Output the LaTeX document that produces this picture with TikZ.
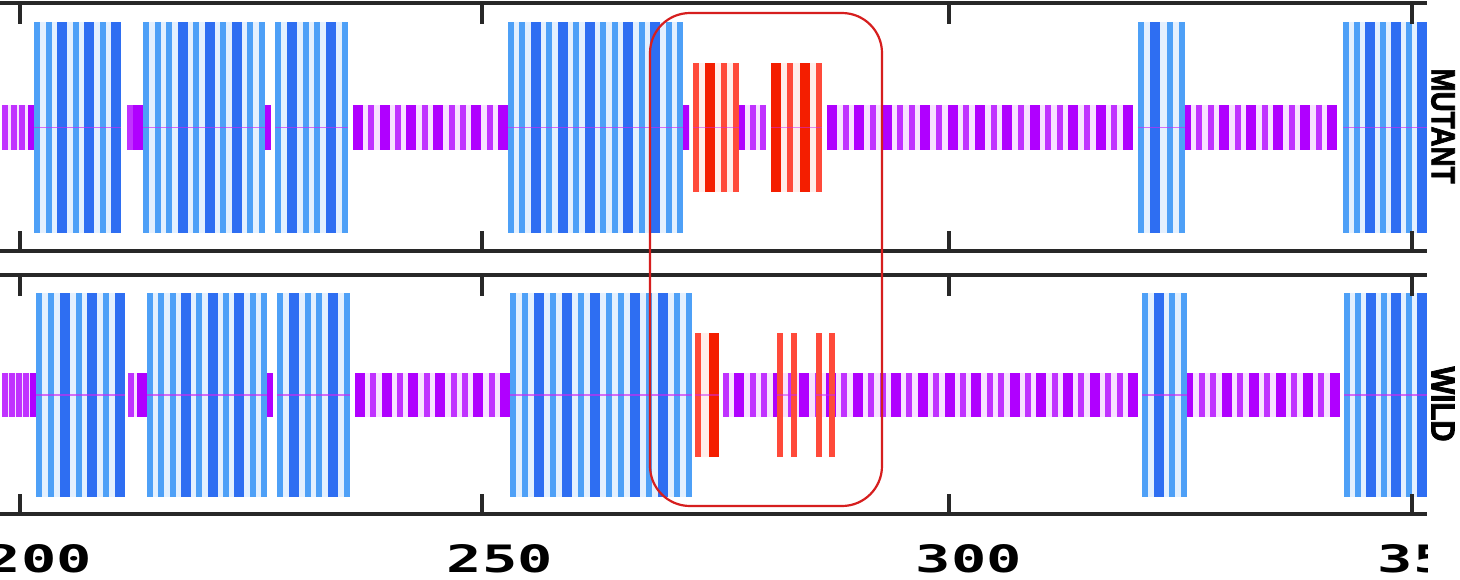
\documentclass[tikz,border=0pt]{standalone}
\usepackage{fontspec}
\usepackage{graphicx}
\newfontfamily\labfont[FakeBold=2.5]{Liberation Sans}
\newfontfamily\numfont{DejaVu Sans Mono}
\definecolor{hlightc}{RGB}{78,160,247}
\definecolor{hdarkc}{RGB}{46,110,242}
\definecolor{hpalec}{RGB}{228,240,254}
\definecolor{clightc}{RGB}{192,50,255}
\definecolor{cdarkc}{RGB}{176,0,255}
\definecolor{cpalec}{RGB}{248,226,255}
\definecolor{elightc}{RGB}{255,74,58}
\definecolor{edarkc}{RGB}{244,30,0}
\definecolor{epalec}{RGB}{255,238,235}
\definecolor{midc}{RGB}{205,40,245}
\definecolor{framec}{RGB}{40,40,40}
\definecolor{boxc}{RGB}{214,30,30}
\tikzset{
  hlight/.style={fill=hlightc}, hdark/.style={fill=hdarkc}, hpale/.style={fill=hpalec},
  hmid/.style={draw=midc, line width=1.5pt, draw opacity=0.65},
  clight/.style={fill=clightc}, cdark/.style={fill=cdarkc}, cpale/.style={fill=cpalec},
  cmid/.style={draw=none},
  elight/.style={fill=elightc}, edark/.style={fill=edarkc}, epale/.style={fill=epalec},
  emid/.style={draw=midc, line width=1.5pt, draw opacity=0.5},
  flight/.style={fill=elightc}, fdark/.style={fill=edarkc}, fpale/.style={fill=none},
  fmid/.style={draw=midc, line width=1.5pt, draw opacity=0.5},
  frameline/.style={draw=framec, line width=3.2pt},
  tickline/.style={draw=framec, line width=4pt},
  redbox/.style={draw=boxc, line width=2.2pt, rounded corners=40pt},
  numlab/.style={inner sep=0pt},
  sidelab/.style={inner sep=0pt, rotate=-90}
}
\newcommand\seg[6]{%
  \gdef\segN{0}\gdef\segS{0}%
  \foreach \t in {#6}{%
    \pgfmathparse{int(\segN+1)}\xdef\segN{\pgfmathresult}%
    \pgfmathparse{\segS+(\t==1?10:6)}\xdef\segS{\pgfmathresult}%
  }%
  \pgfmathparse{(#2-#1-\segS)/max(\segN-1,1)}\xdef\segG{\pgfmathresult}%
  \fill[#5pale] (#1,#3) rectangle (#2,#4);%
  \xdef\segX{#1}%
  \foreach \t in {#6}{%
    \pgfmathparse{\segX+(\t==1?10:6)}\xdef\segR{\pgfmathresult}%
    \ifnum\t=0 \fill[#5light] (\segX,#3) rectangle (\segR,#4);\else\fill[#5dark] (\segX,#3) rectangle (\segR,#4);\fi
    \pgfmathparse{\segR+\segG}\xdef\segX{\pgfmathresult}%
  }%
  \pgfmathparse{(#3+#4)/2}\xdef\segY{\pgfmathresult}%
  \draw[#5mid] (#1,\segY) -- (#2,\segY);%
}
\begin{document}
\begin{tikzpicture}[x=1pt,y=-1pt]
\useasboundingbox (0,0) rectangle (1460,579);
\fill[white] (0,0) rectangle (1460,579);
\begin{scope}
\clip (0,0) rectangle (1427,579);
% ---------- MUTANT row
\seg{2}{34}{105}{150}{c}{0,0,0,2}
\seg{34}{121}{22}{233}{h}{0,0,1,0,1,0,1}
\seg{127}{143}{105}{150}{c}{0,1}
\seg{143}{265}{22}{233}{h}{0,0,0,1,0,1,0,1,0,0}
\seg{265}{270}{105}{150}{c}{2}
\seg{275}{348}{22}{233}{h}{0,1,0,0,1,0}
\seg{353}{508}{105}{150}{c}{1,0,1,0,1,0,1,0,0,1,0,1}
\seg{508}{683}{22}{233}{h}{0,0,1,0,1,0,1,0,0,1,0,1,0,0}
\seg{683}{690}{105}{150}{c}{2}
\seg{693}{739}{63}{192}{e}{0,1,0,0}
\seg{739}{766}{105}{150}{c}{2,0,0}
\seg{771}{822}{63}{192}{e}{1,0,1,0}
\seg{827}{1133}{105}{150}{c}{1,0,1,0,1,0,0,1,0,1,0,1,0,1,0,1,0,0,1,0,1,0,1}
\seg{1138}{1185}{22}{233}{h}{0,1,0,0}
\seg{1185}{1337}{105}{150}{c}{2,0,0,1,0,1,0,1,0,1,0,1}
\seg{1343}{1427}{22}{233}{h}{0,0,1,0,1,0,1}
% ---------- WILD row
\seg{2}{36}{373}{417}{c}{0,0,0,0,2}
\seg{36}{125}{293}{497}{h}{0,0,1,0,1,0,1}
\seg{128}{147}{373}{417}{c}{0,1}
\seg{147}{267}{293}{497}{h}{0,0,0,1,0,1,0,1,0,0}
\seg{267}{272}{373}{417}{c}{2}
\seg{277}{350}{293}{497}{h}{0,1,0,0,1,0}
\seg{355}{510}{373}{417}{c}{1,0,1,0,1,0,1,0,0,1,0,1}
\seg{510}{692}{293}{497}{h}{0,0,1,0,1,0,1,0,0,1,0,1,0,0}
\seg{695}{719}{333}{457}{e}{0,1}
\seg{723}{1138}{373}{417}{c}{0,1,0,0,1,0,1,0,1,0,1,0,0,1,0,1,0,1,0,1,0,0,1,0,1,0,1,0,1,0,0,1}
\seg{777}{797}{333}{457}{f}{0,0}
\seg{816}{835}{333}{457}{f}{0,0}
\seg{1142}{1187}{293}{497}{h}{0,1,0,0}
\seg{1187}{1340}{373}{417}{c}{2,0,0,1,0,1,0,1,0,1,0,1}
\seg{1344}{1427}{293}{497}{h}{0,0,1,0,1,0,1}
% ---------- frames and ticks
\draw[frameline] (0,3) -- (1427,3);
\draw[frameline] (0,251) -- (1427,251);
\draw[frameline] (0,275) -- (1427,275);
\draw[frameline] (0,514) -- (1427,514);
\foreach \xx in {20,482,949,1412}{
  \draw[tickline] (\xx,3) -- (\xx,24);
  \draw[tickline] (\xx,231) -- (\xx,251);
  \draw[tickline] (\xx,275) -- (\xx,296);
  \draw[tickline] (\xx,494) -- (\xx,514);
}
% ---------- axis numbers
\node[numlab] (n200) at (39,559) {\resizebox{106pt}{28pt}{\numfont\bfseries 200}};
\node[numlab] (n250) at (500,559) {\resizebox{106pt}{28pt}{\numfont\bfseries 250}};
\node[numlab] (n300) at (969,559) {\resizebox{106pt}{28pt}{\numfont\bfseries 300}};
\node[numlab] (n350) at (1431,559) {\resizebox{106pt}{28pt}{\numfont\bfseries 350}};
\end{scope}
% ---------- highlight box
\draw[redbox] (650,13) rectangle (882,506);
% ---------- row labels
\node[sidelab] (mut) at (1443,126) {\resizebox{115pt}{23pt}{\labfont\bfseries MUTANT}};
\node[sidelab] (wild) at (1443,404) {\resizebox{75pt}{23pt}{\labfont\bfseries WILD}};
\end{tikzpicture}
\end{document}
